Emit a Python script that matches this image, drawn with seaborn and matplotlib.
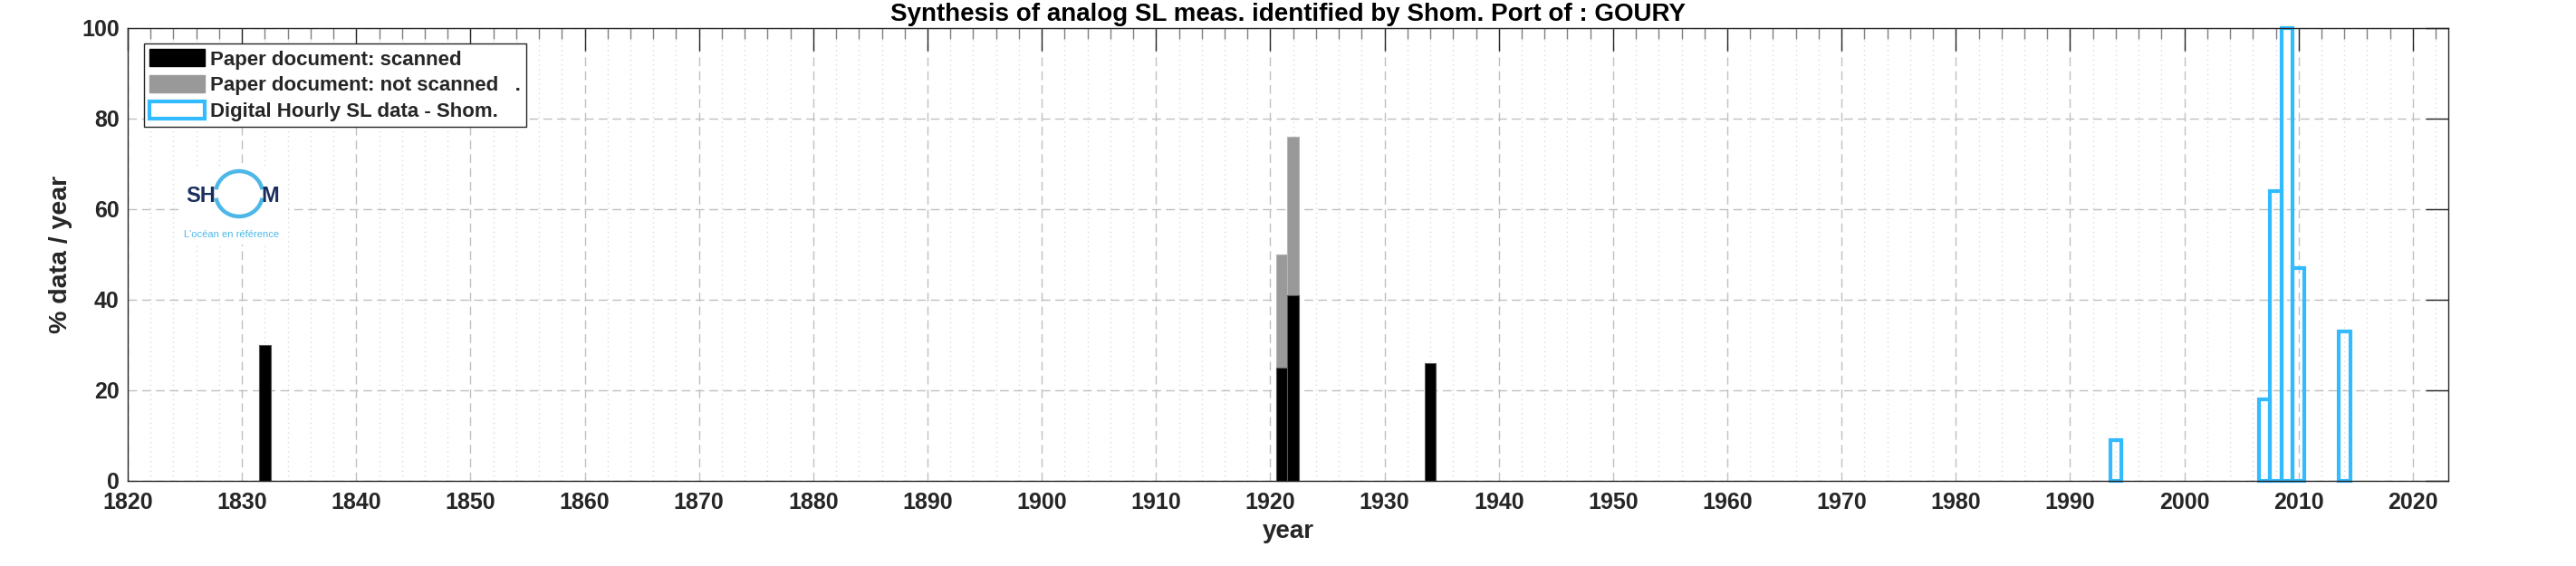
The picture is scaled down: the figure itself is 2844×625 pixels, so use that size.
import numpy as np
import matplotlib
matplotlib.use("Agg")
import matplotlib.pyplot as plt
import seaborn as sns
from matplotlib.patches import Patch, Rectangle, Arc
from matplotlib.ticker import MultipleLocator

# data (percent of the year covered)
years_scanned = [1832, 1921, 1922, 1934]
pct_scanned = [30, 25, 41, 26]
years_not_scanned = [1921, 1922]
pct_not_scanned = [25, 35]
years_digital = [1994, 2007, 2008, 2009, 2010, 2014]
pct_digital = [9, 18, 64, 100, 47, 33]

title = "Synthesis of analog SL meas. identified by Shom. Port of : GOURY"
legend_labels = ["Paper document: scanned",
                 "Paper document: not scanned   .",
                 "Digital Hourly SL data - Shom."]

BLUE = "#33BBFF"
GRAY = "#999999"
INK = "#262626"

sns.set_style("white")
plt.rcParams["font.family"] = ["Liberation Sans", "DejaVu Sans"]
plt.rcParams["font.weight"] = "bold"

W, H = 2844, 625
fig = plt.figure(figsize=(W / 100, H / 100), dpi=100)
ax = fig.add_axes([141 / W, 1 - 531 / H, (2703 - 141) / W, 500 / H])

# stacked paper bars: grey total first, black scanned part on top
scanned_at = dict(zip(years_scanned, pct_scanned))
totals = [scanned_at[y] + v for y, v in zip(years_not_scanned, pct_not_scanned)]
sns.barplot(x=years_not_scanned, y=totals, native_scale=True, width=1, orient="x",
            color=GRAY, saturation=1, edgecolor="#b5b5b5", linewidth=0.8,
            errorbar=None, ax=ax)
sns.barplot(x=years_scanned, y=pct_scanned, native_scale=True, width=1, orient="x",
            color="black", saturation=1, edgecolor="#555555", linewidth=0.8,
            errorbar=None, ax=ax)
sns.barplot(x=years_digital, y=pct_digital, native_scale=True, width=1, orient="x",
            color=BLUE, fill=False, saturation=1, linewidth=3,
            errorbar=None, ax=ax)
for p in ax.patches:
    p.set_clip_on(False)

# axes styling (matlab look)
ax.xaxis.set_major_locator(MultipleLocator(10))
ax.xaxis.set_minor_locator(MultipleLocator(2))
ax.yaxis.set_major_locator(MultipleLocator(20))
ax.tick_params(which="major", direction="in", length=18, width=1, color=INK,
               top=True, right=True, labelsize=18, labelcolor=INK)
ax.tick_params(which="minor", axis="x", direction="in", length=8.6, width=1,
               color="#808080", top=True)
ax.tick_params(axis="x", pad=8.5)
ax.tick_params(axis="y", pad=6.7)
for s in ax.spines.values():
    s.set_color(INK)
    s.set_linewidth(1)

ax.set_axisbelow(True)
ax.grid(which="major", axis="both", linestyle=(0, (7, 4)), color="#c0c0c0", linewidth=1)
ax.grid(which="minor", axis="x", linestyle=(0, (0.8, 3)), color="#d4d4d4", linewidth=1)

ax.set_title(title, fontsize=20, fontweight="bold", pad=6, color="black")
ax.set_ylabel("% data / year", fontsize=20.5, fontweight="bold", color=INK)
ax.yaxis.set_label_coords(-0.0238, 0.5)
ax.set_xlabel("year", fontsize=20, fontweight="bold", color=INK)
ax.xaxis.set_label_coords(0.5, -0.087)

handles = [Patch(facecolor="black", edgecolor="black"),
           Patch(facecolor=GRAY, edgecolor=GRAY),
           Patch(facecolor="white", edgecolor=BLUE, linewidth=3)]
leg = ax.legend(handles, legend_labels, loc="upper left",
                bbox_to_anchor=(0.0071, 0.9654), borderaxespad=0,
                frameon=True, fancybox=False, edgecolor=INK, framealpha=1,
                prop={"weight": "bold", "size": 16},
                handlelength=2.75, handleheight=0.95, handletextpad=0.25,
                borderpad=0.27, labelspacing=0.3)
leg.get_frame().set_linewidth(1)

# shom logo
fx = lambda px: px / W
fy = lambda py: 1 - py / H
ax.add_patch(Rectangle((fx(198), fy(270)), 120 / W, 86 / H, transform=fig.transFigure,
                       facecolor="white", edgecolor="none", zorder=1.5))
fig.text(fx(205), fy(217), "SH", ha="left", va="center", fontsize=17,
         weight="bold", color="#1B2F5E")
fig.text(fx(308), fy(217), "M", ha="right", va="center", fontsize=17,
         weight="bold", color="#1B2F5E")
for t1, t2 in [(40, 140), (220, 320)]:
    fig.add_artist(Arc((fx(264), fy(214)), 52 / W, 50 / H, theta1=t1, theta2=t2,
                       transform=fig.transFigure, color="#4DB8E8", lw=3.2))
fig.text(fx(256), fy(259), "L'océan en référence", ha="center", va="center",
         fontsize=8, weight="normal", color="#4DB8E8")

ax.set_xlim(1820, 2023.1)
ax.set_ylim(0, 100)

fig.savefig("out.png", dpi=100)
